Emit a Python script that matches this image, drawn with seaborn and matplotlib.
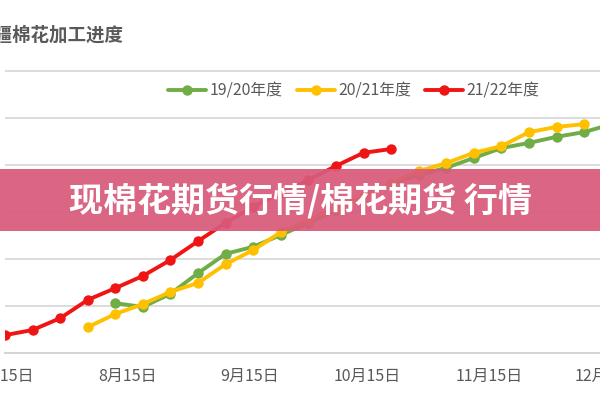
import pandas as pd
import matplotlib.pyplot as plt
import matplotlib.dates as mdates
import seaborn as sns
from matplotlib.patches import Rectangle
from matplotlib.ticker import FuncFormatter

sns.set_style('white')
plt.rcParams['font.family'] = ['Noto Sans CJK SC', 'DejaVu Sans']

# weekly readings, all seasons laid on one calendar axis
red_dates = pd.date_range('2021-07-15', periods=15, freq='7D')
red_vals = [38, 49, 74, 113, 138, 164, 198, 238, 277, 311, 340, 368, 398, 426, 434]

green_dates = pd.date_range('2021-08-12', periods=19, freq='7D')
green_vals = [106, 98, 126, 170, 211, 226, 251, 277, 304, 334, 360, 379, 394, 415, 436,
              447, 460, 470, 487]

yellow_dates = pd.date_range('2021-08-05', periods=19, freq='7D')
yellow_vals = [55, 83, 104, 130, 149, 189, 219, 257, 283, 309, 334, 362, 387, 404, 426,
               440, 470, 481, 487]

seasons = ['19/20年度', '20/21年度', '21/22年度']
colors = ['#70AD47', '#FFC000', '#F01515']

df = pd.concat([
    pd.DataFrame({'date': green_dates, 'value': green_vals, 'season': seasons[0]}),
    pd.DataFrame({'date': yellow_dates, 'value': yellow_vals, 'season': seasons[1]}),
    pd.DataFrame({'date': red_dates, 'value': red_vals, 'season': seasons[2]}),
])

fig = plt.figure(figsize=(6, 4), dpi=100)
# 3.94 px per day, 7/15 at x=5 px
x0 = pd.Timestamp('2021-07-15')
x1 = pd.Timestamp('2021-12-31')
width_px = (x1 - x0).days * 3.94
ax = fig.add_axes([5 / 600, 47 / 400, width_px / 600, 640 * 0.47 / 400])

sns.lineplot(data=df, x='date', y='value', hue='season', hue_order=seasons,
             palette=colors, marker='o', markersize=7.5, markeredgewidth=0,
             linewidth=2.8, ax=ax, legend=False)

ax.set_xlim(x0, x1)
ax.set_ylim(0, 640)
ax.set_yticks([100, 200, 300, 400, 500, 600])
ax.set_yticklabels([])
ax.tick_params(axis='y', length=0)
ax.yaxis.grid(True, color='#D9D9D9', linewidth=1.3)
ax.set_axisbelow(True)
for s in ['top', 'right', 'left']:
    ax.spines[s].set_visible(False)
ax.spines['bottom'].set_color('#D0D0D0')
ax.spines['bottom'].set_linewidth(1.3)

ax.xaxis.set_major_locator(mdates.DayLocator(bymonthday=15))
ax.xaxis.set_major_formatter(FuncFormatter(
    lambda v, pos: f"{mdates.num2date(v).month}月{mdates.num2date(v).day}日"))
ax.tick_params(axis='x', length=4, color='#D0D0D0', labelsize=11.5,
               labelcolor='#595959', pad=7)
ax.set_xlabel('')
ax.set_ylabel('')

handles = [plt.Line2D([], [], color=c, marker='o', markersize=7.5, markeredgewidth=0,
                      linewidth=2.8) for c in colors]
fig.legend(handles, seasons, loc='center', bbox_to_anchor=(354 / 600, 309 / 400),
           ncol=3, frameon=False, fontsize=11.4, labelcolor='#595959',
           handlelength=2.4, handletextpad=0.2, columnspacing=0.9)

# title is cropped at the left edge in the source image
fig.text(-24 / 600, 365 / 400, '新疆棉花加工进度', fontsize=13.3, fontweight='bold',
         color='#595959', ha='left', va='center')

# pink banner over the chart
fig.patches.append(Rectangle((0, 169 / 400), 1, 62 / 400, transform=fig.transFigure,
                             facecolor='#D95A7B', alpha=0.93, edgecolor='none', zorder=5))
fig.text(0.5, 199 / 400, '现棉花期货行情/棉花期货 行情', fontsize=24.5, fontweight='heavy',
         color='white', ha='center', va='center', zorder=6)

fig.savefig('out.png', dpi=100)
